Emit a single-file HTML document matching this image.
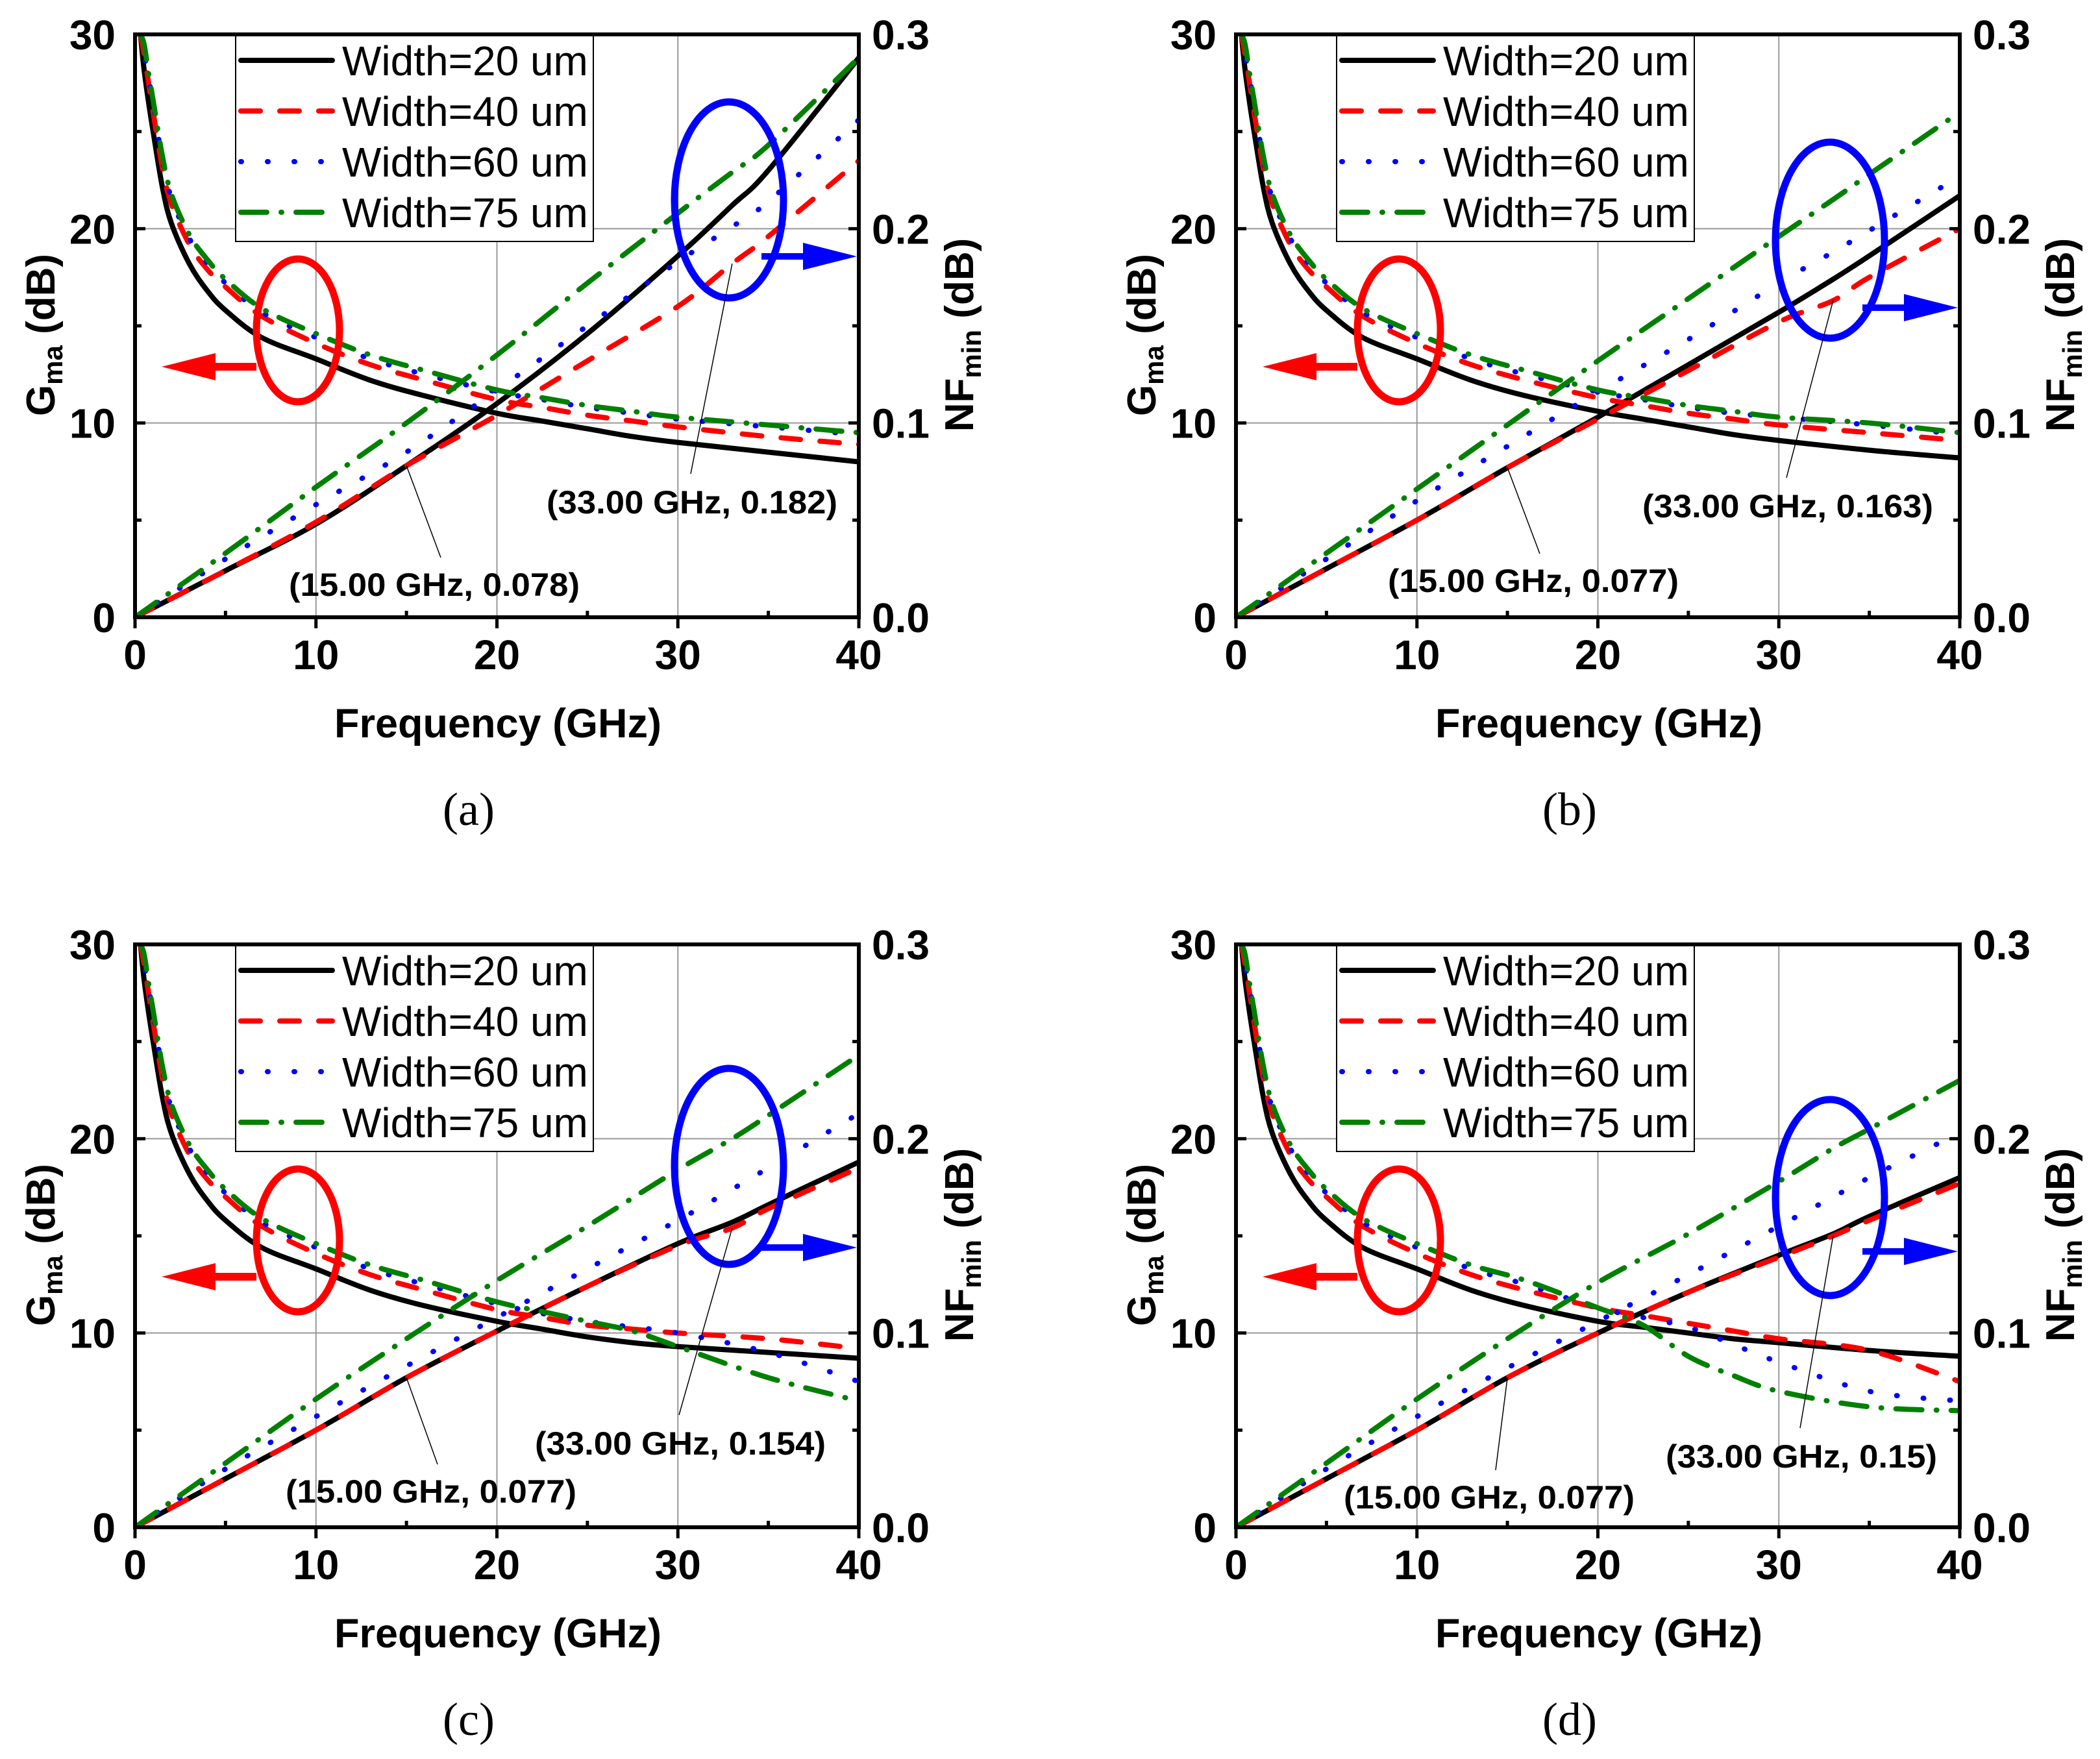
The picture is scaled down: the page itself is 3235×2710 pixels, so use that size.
<!DOCTYPE html>
<html><head><meta charset="utf-8">
<style>
html,body{margin:0;padding:0;background:#fff;}
svg{display:block;}
text{font-family:"Liberation Sans",sans-serif;}
</style></head>
<body>
<svg id="fig" xmlns="http://www.w3.org/2000/svg" width="3235" height="2710" viewBox="0 0 3235 2710">
<rect x="0" y="0" width="3235" height="2710" fill="#fff"/>
</svg>
<script>
// ---- data ----
const gmaFreq = [0.3,0.5,0.75,1,1.5,2,3,4,5,7,10,13,16,20,22.5,25,27.5,30,35,40];
const nfFreq = [0,5,10,15,20,25,30,33,35,40];
const seriesNames = ["Width=20 um","Width=40 um","Width=60 um","Width=75 um"];
const xTicks = [0,10,20,30,40];
const yLeftTicks = [0,10,20,30];
const yRightTicks = ["0.0","0.1","0.2","0.3"];
const panelLabels = ["(a)","(b)","(c)","(d)"];

const gmaA20 = [30,28.2,26.5,25.0,22.2,20.3,18.2,16.8,15.8,14.4,13.3,12.2,11.4,10.5,10.1,9.7,9.3,9.0,8.5,8.0];
const gmaA40 = [30,29.0,27.5,26.0,23.2,21.3,19.2,17.9,17.0,15.5,14.1,13.0,12.2,11.2,10.8,10.4,10.1,9.8,9.3,8.9];
const gmaA60 = [30,29.0,27.8,26.4,23.6,21.6,19.5,18.2,17.2,15.7,14.4,13.3,12.5,11.6,11.2,10.8,10.5,10.2,9.8,9.4];
const gmaA75 = [30,29.5,28.0,26.6,23.8,21.8,19.7,18.4,17.4,15.9,14.6,13.5,12.7,11.7,11.3,10.9,10.6,10.3,9.9,9.5];
const gmaB20 = [30,28.2,26.5,25.0,22.2,20.3,18.2,16.8,15.8,14.4,13.3,12.2,11.4,10.6,10.2,9.8,9.4,9.1,8.6,8.2];
const gmaB40 = [30,29.0,27.5,26.0,23.2,21.3,19.2,17.9,17.0,15.5,14.1,13.0,12.2,11.3,10.9,10.5,10.2,9.9,9.5,9.1];
const gmaB60 = [30,29.0,27.8,26.4,23.6,21.6,19.5,18.2,17.2,15.7,14.4,13.3,12.5,11.6,11.2,10.8,10.5,10.3,9.9,9.4];
const gmaB75 = [30,29.5,28.0,26.6,23.8,21.8,19.7,18.4,17.4,15.9,14.6,13.5,12.7,11.7,11.3,10.9,10.6,10.3,10.0,9.5];
const gmaC20 = [30,28.2,26.5,25.0,22.2,20.3,18.2,16.8,15.8,14.4,13.3,12.2,11.4,10.6,10.2,9.8,9.5,9.3,9.0,8.7];
const gmaC40 = [30,29.0,27.5,26.0,23.2,21.3,19.2,17.9,17.0,15.5,14.1,13.0,12.2,11.2,10.8,10.4,10.2,10.0,9.7,9.2];
const gmaC60 = [30,29.0,27.8,26.4,23.6,21.6,19.5,18.2,17.2,15.7,14.4,13.3,12.5,11.5,11.0,10.6,10.3,10.0,9.0,7.5];
const gmaC75 = [30,29.5,28.0,26.6,23.8,21.8,19.7,18.4,17.4,15.9,14.6,13.5,12.7,11.6,11.1,10.6,10.1,9.3,7.7,6.5];
const gmaD20 = [30,28.2,26.5,25.0,22.2,20.3,18.2,16.8,15.8,14.4,13.3,12.2,11.4,10.6,10.3,10.0,9.7,9.5,9.1,8.8];
const gmaD40 = [30,29.0,27.5,26.0,23.2,21.3,19.2,17.9,17.0,15.5,14.1,13.0,12.2,11.3,10.9,10.5,10.1,9.7,9.1,7.5];
const gmaD60 = [30,29.0,27.8,26.4,23.6,21.6,19.5,18.2,17.2,15.7,14.4,13.3,12.5,11.3,10.8,10.3,9.4,8.5,7.0,6.5];
const gmaD75 = [30,29.5,28.0,26.6,23.8,21.8,19.7,18.4,17.4,15.9,14.6,13.5,12.7,11.3,10.4,8.8,7.8,7.0,6.2,6.0];

const nfA20 = [0,0.024,0.048,0.078,0.110,0.146,0.186,0.212,0.230,0.288];
const nfA40 = [0,0.024,0.049,0.078,0.104,0.132,0.160,0.182,0.196,0.235];
const nfA60 = [0,0.030,0.058,0.085,0.117,0.150,0.183,0.201,0.214,0.256];
const nfA75 = [0,0.033,0.067,0.100,0.135,0.172,0.208,0.229,0.243,0.288];
const nfB20 = [0,0.025,0.050,0.077,0.103,0.130,0.157,0.174,0.186,0.217];
const nfB40 = [0,0.025,0.050,0.077,0.102,0.127,0.152,0.163,0.175,0.200];
const nfB60 = [0,0.030,0.060,0.088,0.116,0.143,0.172,0.188,0.199,0.227];
const nfB75 = [0,0.033,0.066,0.099,0.132,0.164,0.196,0.215,0.228,0.260];
const nfC20 = [0,0.025,0.050,0.077,0.101,0.124,0.146,0.157,0.166,0.188];
const nfC40 = [0,0.025,0.050,0.077,0.101,0.124,0.145,0.154,0.164,0.185];
const nfC60 = [0,0.030,0.057,0.083,0.108,0.133,0.158,0.174,0.185,0.213];
const nfC75 = [0,0.033,0.066,0.097,0.127,0.155,0.184,0.200,0.212,0.243];
const nfD20 = [0,0.025,0.050,0.077,0.100,0.121,0.140,0.151,0.160,0.180];
const nfD40 = [0,0.025,0.050,0.077,0.100,0.121,0.139,0.150,0.158,0.177];
const nfD60 = [0,0.030,0.057,0.082,0.106,0.130,0.155,0.170,0.180,0.203];
const nfD75 = [0,0.033,0.066,0.097,0.126,0.151,0.178,0.195,0.205,0.230];

const annLow = ["(15.00 GHz, 0.078)","(15.00 GHz, 0.077)","(15.00 GHz, 0.077)","(15.00 GHz, 0.077)"];
const annHigh = ["(33.00 GHz, 0.182)","(33.00 GHz, 0.163)","(33.00 GHz, 0.154)","(33.00 GHz, 0.15)"];
const annLowVal = [0.078,0.077,0.077,0.077];
const annHighVal = [0.182,0.163,0.154,0.15];

// ---- layout ----
const NS = "http://www.w3.org/2000/svg";
const svg = document.getElementById("fig");
const panelsGma = [[gmaA20,gmaA40,gmaA60,gmaA75],[gmaB20,gmaB40,gmaB60,gmaB75],[gmaC20,gmaC40,gmaC60,gmaC75],[gmaD20,gmaD40,gmaD60,gmaD75]];
const panelsNf = [[nfA20,nfA40,nfA60,nfA75],[nfB20,nfB40,nfB60,nfB75],[nfC20,nfC40,nfC60,nfC75],[nfD20,nfD40,nfD60,nfD75]];
const OX = [208,1904,208,1904], OY = [53,53,1455,1455], W = 1115, H = 898;
const blueCy = [255,317,342,390], blueArrowY = [342,421,467,473];
const lowLbl = [[461,846],[458,840],[456,841],[390,850]];
const highLbl = [[858,719],[850,725],[840,767],[871,787]];
const colors = ["#000000","#ff0000","#0000ff","#008000"];
const dashes = ["", "30 30", "1 40", "40 22 1 22"];

function el(tag, attrs, parent){
  const e = document.createElementNS(NS, tag);
  for (const k in attrs) e.setAttribute(k, attrs[k]);
  (parent||svg).appendChild(e);
  return e;
}
function smoothPath(pts){
  let d = "M" + pts[0][0].toFixed(1) + "," + pts[0][1].toFixed(1);
  for (let i=0;i<pts.length-1;i++){
    const p0 = pts[Math.max(0,i-1)], p1 = pts[i], p2 = pts[i+1], p3 = pts[Math.min(pts.length-1,i+2)];
    const c1x = p1[0]+(p2[0]-p0[0])/6, c1y = p1[1]+(p2[1]-p0[1])/6;
    const c2x = p2[0]-(p3[0]-p1[0])/6, c2y = p2[1]-(p3[1]-p1[1])/6;
    d += " C"+c1x.toFixed(1)+","+c1y.toFixed(1)+" "+c2x.toFixed(1)+","+c2y.toFixed(1)+" "+p2[0].toFixed(1)+","+p2[1].toFixed(1);
  }
  return d;
}

for (let p=0;p<4;p++){
  const ox = OX[p], oy = OY[p];
  const xs = f => ox + f/40*W;
  const yl = g => oy + H - g/30*H;
  const yr = n => oy + H - n/0.3*H;
  const g = el("g", {});
  
  

  const clip = el("clipPath", {id:"clip"+p}, g);
  el("rect", {x:ox, y:oy, width:W, height:H}, clip);

  for (const t of [10,20,30]){
    const l = el("line", {x1:xs(t), y1:oy, x2:xs(t), y2:oy+H, stroke:"#999", "stroke-width":2}, g);
    
    
  }
  for (const t of [10,20]){
    const l = el("line", {x1:ox, y1:yl(t), x2:ox+W, y2:yl(t), stroke:"#999", "stroke-width":2}, g);
    
    
  }

  const cg = el("g", {"clip-path":"url(#clip"+p+")"}, g);
  for (let s=0;s<4;s++){
    const gp = panelsGma[p][s].map((v,i)=>[xs(gmaFreq[i]), yl(v)]);
    const a = {d:smoothPath(gp), fill:"none", stroke:colors[s], "stroke-width":8, "stroke-linecap":"round"};
    if (dashes[s]) a["stroke-dasharray"] = dashes[s];
    const path = el("path", a, cg);
    
    
    const np = panelsNf[p][s].map((v,i)=>[xs(nfFreq[i]), yr(v)]);
    const b = {d:smoothPath(np), fill:"none", stroke:colors[s], "stroke-width":8, "stroke-linecap":"round"};
    if (dashes[s]) b["stroke-dasharray"] = dashes[s];
    const path2 = el("path", b, cg);
    
    
  }

  const re = el("ellipse", {cx:ox+251, cy:oy+456, rx:64, ry:110, fill:"none", stroke:"#ff0000", "stroke-width":11}, g);
  
  
  const ra = el("path", {d:"M"+(ox+41)+","+(oy+512)+" L"+(ox+124)+","+(oy+491)+" L"+(ox+124)+","+(oy+506)+" L"+(ox+187)+","+(oy+506)+" L"+(ox+187)+","+(oy+518)+" L"+(ox+124)+","+(oy+518)+" L"+(ox+124)+","+(oy+533)+" Z", fill:"#ff0000"}, g);
  
  
  const be = el("ellipse", {cx:ox+915, cy:oy+blueCy[p], rx:84, ry:151, fill:"none", stroke:"#0000ff", "stroke-width":11}, g);
  
  
  const ay = oy+blueArrowY[p];
  const ba = el("path", {d:"M"+(ox+W-3)+","+ay+" L"+(ox+1029)+","+(ay-21)+" L"+(ox+1029)+","+(ay-5)+" L"+(ox+965)+","+(ay-5)+" L"+(ox+965)+","+(ay+5)+" L"+(ox+1029)+","+(ay+5)+" L"+(ox+1029)+","+(ay+21)+" Z", fill:"#0000ff"}, g);
  
  

  const lx = ox+lowLbl[p][0], ly = oy+lowLbl[p][1];
  const pl1 = el("line", {x1:xs(15), y1:yr(annLowVal[p]), x2:lx+10, y2:ly-40, stroke:"#000", "stroke-width":1.5}, g);
  
  
  const t1 = el("text", {x:lx, y:ly+19, "text-anchor":"middle", "font-size":50, "font-weight":"bold", textLength:448, lengthAdjust:"spacingAndGlyphs"}, g);
  t1.textContent = annLow[p];
  
  
  const hx = ox+highLbl[p][0], hy = oy+highLbl[p][1];
  const pl2 = el("line", {x1:xs(33), y1:yr(annHighVal[p]), x2:hx-2, y2:hy-42, stroke:"#000", "stroke-width":1.5}, g);
  
  
  const t2 = el("text", {x:hx, y:hy+19, "text-anchor":"middle", "font-size":50, "font-weight":"bold", textLength:(annHigh[p].length>17?448:418), lengthAdjust:"spacingAndGlyphs"}, g);
  t2.textContent = annHigh[p];
  
  

  const lg = el("g", {}, g);
  
  
  el("rect", {x:ox+155, y:oy-1, width:551, height:320, fill:"#fff", stroke:"#000", "stroke-width":2}, lg);
  for (let s=0;s<4;s++){
    const yy = oy + 40 + s*78;
    const la = {x1:ox+163, y1:yy, x2:ox+304, y2:yy, stroke:colors[s], "stroke-width":8, "stroke-linecap":"round"};
    if (dashes[s]) la["stroke-dasharray"] = dashes[s];
    const ll = el("line", la, lg);
    
    
    const lt = el("text", {x:ox+319, y:yy+23, "font-size":64}, lg);
    lt.textContent = seriesNames[s];
    
    
  }

  const fr = el("rect", {x:ox, y:oy, width:W, height:H, fill:"none", stroke:"#000", "stroke-width":6}, g);
  
  

  for (let f=0; f<=40; f+=5){
    const major = f%10===0;
    el("line", {x1:xs(f), y1:oy+H, x2:xs(f), y2: major? oy+H+17 : oy+H-10, stroke:"#000", "stroke-width":5}, g);
  }
  for (let v=0; v<=30; v+=5){
    const len = v%10===0 ? 16 : 10;
    el("line", {x1:ox, y1:yl(v), x2:ox+len, y2:yl(v), stroke:"#000", "stroke-width":5}, g);
    el("line", {x1:ox+W, y1:yl(v), x2:ox+W-len, y2:yl(v), stroke:"#000", "stroke-width":5}, g);
  }
  xTicks.forEach(t=>{
    const tx = el("text", {x:xs(t), y:oy+H+80, "text-anchor":"middle", "font-size":64, "font-weight":"bold"}, g);
    tx.textContent = t;
    
    
  });
  yLeftTicks.forEach(t=>{
    const tx = el("text", {x:ox-30, y:yl(t)+23, "text-anchor":"end", "font-size":64, "font-weight":"bold"}, g);
    tx.textContent = t;
    
    
  });
  yRightTicks.forEach((t,i)=>{
    const tx = el("text", {x:ox+W+20, y:yr(i*0.1)+23, "font-size":64, "font-weight":"bold"}, g);
    tx.textContent = t;
    
    
  });

  const xt = el("text", {x:ox+559, y:oy+H+185, "text-anchor":"middle", "font-size":63, "font-weight":"bold"}, g);
  xt.textContent = "Frequency (GHz)";
  
  

  const yt = el("text", {transform:"translate("+(ox-124)+","+(oy+463)+") rotate(-90)", "text-anchor":"middle", "font-size":62, "font-weight":"bold"}, g);
  yt.innerHTML = 'G<tspan font-size="42" dy="12">ma</tspan><tspan dy="-12"> (dB)</tspan>';
  
  

  const yt2 = el("text", {transform:"translate("+(ox+W+176)+","+(oy+463)+") rotate(-90)", "text-anchor":"middle", "font-size":62, "font-weight":"bold"}, g);
  yt2.innerHTML = 'NF<tspan font-size="42" dy="12">min</tspan><tspan dy="-12"> (dB)</tspan>';
  
  

  const cap = el("text", {x:ox+514, y:oy+H+320, "text-anchor":"middle", "font-size":72, style:"font-family:'Liberation Serif',serif"}, g);
  cap.textContent = panelLabels[p];
  
  
}
</script>
</body></html>
